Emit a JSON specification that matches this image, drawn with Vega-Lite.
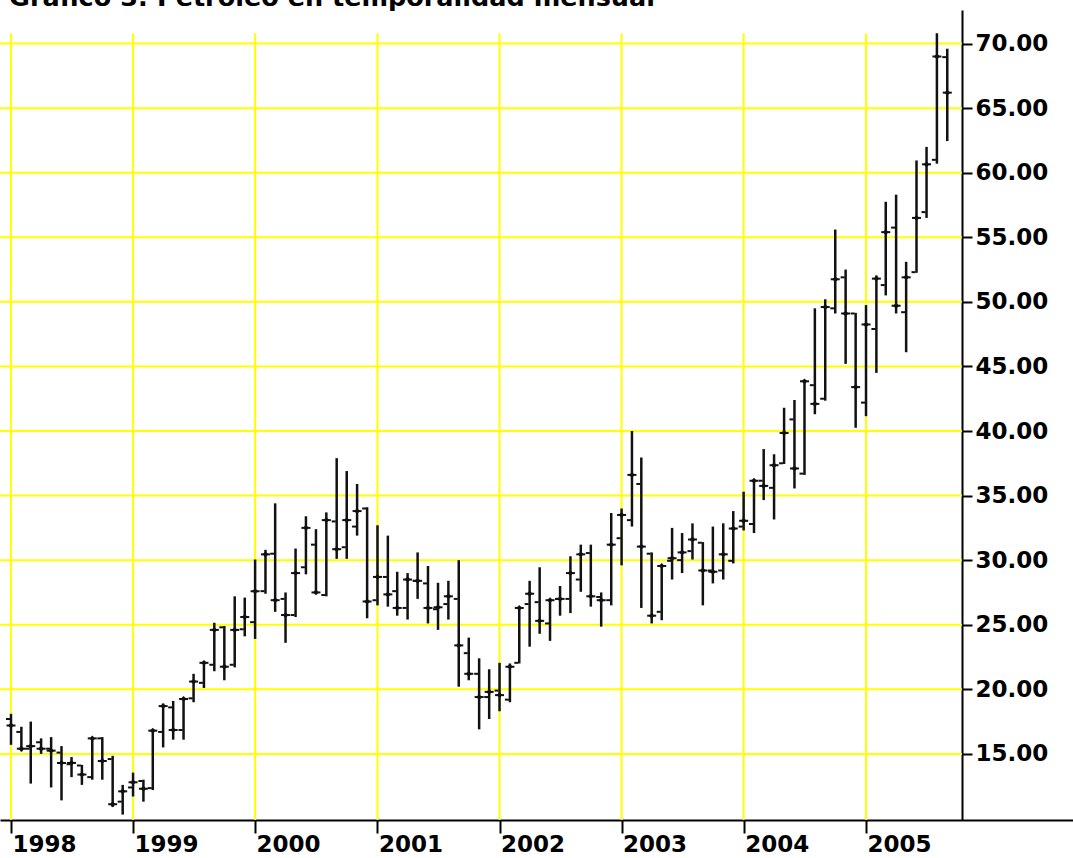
{
  "$schema": "https://vega.github.io/schema/vega-lite/v6.json",
  "width": 1073,
  "height": 810,
  "autosize": {"type": "none"},
  "padding": {"left": 0, "top": 10, "right": 0, "bottom": 38},
  "background": "white",
  "config": {
    "view": {"stroke": null},
    "axis": {
      "grid": false, "title": null,
      "domainColor": "#000000", "domainWidth": 2,
      "tickColor": "#000000", "tickWidth": 2,
      "labelFont": "DejaVu Sans", "labelFontWeight": "bold", "labelFontSize": 23, "labelColor": "#000000",
      "labelOverlap": false, "labelFlush": false, "labelBound": false
    },
    "axisX": {"tickSize": 13, "labelAlign": "left", "labelBaseline": "alphabetic", "labelPadding": 18, "labelOffset": 1},
    "axisY": {"tickSize": 10, "labelAlign": "left", "labelBaseline": "middle", "labelPadding": 3}
  },
  "title": {
    "text": "Gráfico 3: Petróleo en temporalidad mensual",
    "anchor": "start",
    "frame": "group",
    "font": "DejaVu Sans",
    "fontSize": 25.5,
    "fontWeight": "bold",
    "color": "#000000",
    "baseline": "alphabetic",
    "offset": -21,
    "dx": 9
  },
  "datasets": {
    "levels": [{"v": 15}, {"v": 20}, {"v": 25}, {"v": 30}, {"v": 35}, {"v": 40}, {"v": 45}, {"v": 50}, {"v": 55}, {"v": 60}, {"v": 65}, {"v": 70}],
    "years": [{"yr": "1998-01-01"}, {"yr": "1999-01-01"}, {"yr": "2000-01-01"}, {"yr": "2001-01-01"}, {"yr": "2002-01-01"}, {"yr": "2003-01-01"}, {"yr": "2004-01-01"}, {"yr": "2005-01-01"}],
    "ohlc": [
      {"d": "1998-01-01", "o": 17.7, "h": 18.1, "l": 15.7, "c": 17.2},
      {"d": "1998-02-01", "o": 16.7, "h": 17.1, "l": 15.2, "c": 15.4},
      {"d": "1998-03-01", "o": 15.4, "h": 17.5, "l": 12.7, "c": 15.6},
      {"d": "1998-04-01", "o": 15.9, "h": 16.2, "l": 15.0, "c": 15.4},
      {"d": "1998-05-01", "o": 15.4, "h": 16.3, "l": 12.4, "c": 15.25},
      {"d": "1998-06-01", "o": 15.1, "h": 15.6, "l": 11.4, "c": 14.3},
      {"d": "1998-07-01", "o": 14.2, "h": 14.75, "l": 13.2, "c": 14.3},
      {"d": "1998-08-01", "o": 14.1, "h": 14.15, "l": 12.6, "c": 13.4},
      {"d": "1998-09-01", "o": 13.2, "h": 16.3, "l": 13.0, "c": 16.2},
      {"d": "1998-10-01", "o": 16.2, "h": 16.3, "l": 13.0, "c": 14.45},
      {"d": "1998-11-01", "o": 14.6, "h": 14.85, "l": 10.9, "c": 11.1},
      {"d": "1998-12-01", "o": 11.3, "h": 12.6, "l": 10.3, "c": 12.1},
      {"d": "1999-01-01", "o": 12.4, "h": 13.55, "l": 11.7, "c": 12.8},
      {"d": "1999-02-01", "o": 12.9, "h": 13.0, "l": 11.3, "c": 12.3},
      {"d": "1999-03-01", "o": 12.35, "h": 16.9, "l": 12.2, "c": 16.8},
      {"d": "1999-04-01", "o": 16.7, "h": 18.9, "l": 15.5, "c": 18.7},
      {"d": "1999-05-01", "o": 18.6, "h": 19.1, "l": 16.1, "c": 16.85},
      {"d": "1999-06-01", "o": 16.85, "h": 19.4, "l": 16.1, "c": 19.25},
      {"d": "1999-07-01", "o": 19.3, "h": 21.2, "l": 19.0, "c": 20.6},
      {"d": "1999-08-01", "o": 20.5, "h": 22.1, "l": 20.1, "c": 22.05},
      {"d": "1999-09-01", "o": 21.9, "h": 25.15, "l": 21.4, "c": 24.6},
      {"d": "1999-10-01", "o": 24.8, "h": 24.9, "l": 20.7, "c": 21.75},
      {"d": "1999-11-01", "o": 21.9, "h": 27.2, "l": 21.7, "c": 24.6},
      {"d": "1999-12-01", "o": 24.65, "h": 27.1, "l": 24.1, "c": 25.6},
      {"d": "2000-01-01", "o": 25.2, "h": 30.05, "l": 23.9, "c": 27.6},
      {"d": "2000-02-01", "o": 27.6, "h": 30.8, "l": 27.4, "c": 30.45},
      {"d": "2000-03-01", "o": 30.5, "h": 34.4, "l": 26.0, "c": 26.9},
      {"d": "2000-04-01", "o": 27.0, "h": 27.5, "l": 23.6, "c": 25.75},
      {"d": "2000-05-01", "o": 25.75, "h": 30.9, "l": 25.6, "c": 29.0},
      {"d": "2000-06-01", "o": 29.45, "h": 33.4, "l": 28.9, "c": 32.5},
      {"d": "2000-07-01", "o": 31.2, "h": 32.4, "l": 27.5, "c": 27.5},
      {"d": "2000-08-01", "o": 27.3, "h": 33.7, "l": 27.2, "c": 33.1},
      {"d": "2000-09-01", "o": 33.0, "h": 37.9, "l": 30.1, "c": 30.85},
      {"d": "2000-10-01", "o": 31.0, "h": 36.9, "l": 30.1, "c": 33.1},
      {"d": "2000-11-01", "o": 32.6, "h": 35.9, "l": 31.9, "c": 33.8},
      {"d": "2000-12-01", "o": 34.0, "h": 34.1, "l": 25.5, "c": 26.8},
      {"d": "2001-01-01", "o": 26.9, "h": 32.7, "l": 26.5, "c": 28.7},
      {"d": "2001-02-01", "o": 28.7, "h": 31.9, "l": 26.4, "c": 27.35},
      {"d": "2001-03-01", "o": 27.6, "h": 29.1, "l": 25.7, "c": 26.3},
      {"d": "2001-04-01", "o": 26.3, "h": 29.0, "l": 25.4, "c": 28.5},
      {"d": "2001-05-01", "o": 28.4, "h": 30.6, "l": 27.0, "c": 28.4},
      {"d": "2001-06-01", "o": 28.2, "h": 29.55, "l": 25.1, "c": 26.3},
      {"d": "2001-07-01", "o": 26.2, "h": 28.25, "l": 24.6, "c": 26.35},
      {"d": "2001-08-01", "o": 26.6, "h": 28.4, "l": 25.4, "c": 27.2},
      {"d": "2001-09-01", "o": 27.0, "h": 30.0, "l": 20.2, "c": 23.4},
      {"d": "2001-10-01", "o": 22.8, "h": 24.0, "l": 20.7, "c": 21.2},
      {"d": "2001-11-01", "o": 21.2, "h": 22.4, "l": 16.9, "c": 19.4},
      {"d": "2001-12-01", "o": 19.4, "h": 21.55, "l": 17.7, "c": 19.8},
      {"d": "2002-01-01", "o": 19.9, "h": 22.05, "l": 18.3, "c": 19.55},
      {"d": "2002-02-01", "o": 19.2, "h": 22.0, "l": 19.0, "c": 21.75},
      {"d": "2002-03-01", "o": 22.05, "h": 26.35, "l": 22.0, "c": 26.3},
      {"d": "2002-04-01", "o": 26.6, "h": 28.4, "l": 23.3, "c": 27.4},
      {"d": "2002-05-01", "o": 26.75, "h": 29.45, "l": 24.3, "c": 25.3},
      {"d": "2002-06-01", "o": 25.1, "h": 26.95, "l": 23.75, "c": 26.9},
      {"d": "2002-07-01", "o": 27.0, "h": 28.0, "l": 25.7, "c": 27.0},
      {"d": "2002-08-01", "o": 27.0, "h": 30.3, "l": 25.9, "c": 29.0},
      {"d": "2002-09-01", "o": 28.5, "h": 31.2, "l": 27.55, "c": 30.45},
      {"d": "2002-10-01", "o": 30.55, "h": 31.2, "l": 26.4, "c": 27.2},
      {"d": "2002-11-01", "o": 27.15, "h": 27.5, "l": 24.85, "c": 26.9},
      {"d": "2002-12-01", "o": 26.9, "h": 33.65, "l": 26.5, "c": 31.2},
      {"d": "2003-01-01", "o": 31.7, "h": 34.0, "l": 29.6, "c": 33.5},
      {"d": "2003-02-01", "o": 33.1, "h": 40.0, "l": 32.6, "c": 36.6},
      {"d": "2003-03-01", "o": 35.9, "h": 37.95, "l": 26.3, "c": 31.05},
      {"d": "2003-04-01", "o": 30.5, "h": 30.6, "l": 25.1, "c": 25.7},
      {"d": "2003-05-01", "o": 26.0, "h": 29.6, "l": 25.35, "c": 29.55},
      {"d": "2003-06-01", "o": 29.95, "h": 32.5, "l": 28.5, "c": 30.15},
      {"d": "2003-07-01", "o": 30.0, "h": 32.1, "l": 29.0, "c": 30.6},
      {"d": "2003-08-01", "o": 30.7, "h": 32.85, "l": 30.05, "c": 31.6},
      {"d": "2003-09-01", "o": 31.35, "h": 31.4, "l": 26.5, "c": 29.2},
      {"d": "2003-10-01", "o": 29.2, "h": 32.6, "l": 28.2, "c": 29.1},
      {"d": "2003-11-01", "o": 29.2, "h": 32.85, "l": 28.5, "c": 30.45},
      {"d": "2003-12-01", "o": 29.95, "h": 33.8, "l": 29.75, "c": 32.45},
      {"d": "2004-01-01", "o": 32.6, "h": 35.3, "l": 32.3, "c": 33.05},
      {"d": "2004-02-01", "o": 32.8, "h": 36.2, "l": 32.1, "c": 36.15},
      {"d": "2004-03-01", "o": 36.15, "h": 38.6, "l": 34.65, "c": 35.75},
      {"d": "2004-04-01", "o": 35.6, "h": 38.2, "l": 33.15, "c": 37.35},
      {"d": "2004-05-01", "o": 37.5, "h": 41.8, "l": 37.45, "c": 39.85},
      {"d": "2004-06-01", "o": 40.9, "h": 42.4, "l": 35.55, "c": 37.1},
      {"d": "2004-07-01", "o": 36.7, "h": 43.95, "l": 36.6, "c": 43.85},
      {"d": "2004-08-01", "o": 43.55, "h": 49.5, "l": 41.3, "c": 42.1},
      {"d": "2004-09-01", "o": 42.5, "h": 50.2, "l": 42.35, "c": 49.6},
      {"d": "2004-10-01", "o": 49.5, "h": 55.6, "l": 49.1, "c": 51.75},
      {"d": "2004-11-01", "o": 51.9, "h": 52.5, "l": 45.2, "c": 49.1},
      {"d": "2004-12-01", "o": 49.1, "h": 49.15, "l": 40.25, "c": 43.4},
      {"d": "2005-01-01", "o": 42.2, "h": 49.75, "l": 41.15, "c": 48.25},
      {"d": "2005-02-01", "o": 47.9, "h": 52.05, "l": 44.5, "c": 51.8},
      {"d": "2005-03-01", "o": 51.3, "h": 57.75, "l": 50.5, "c": 55.4},
      {"d": "2005-04-01", "o": 55.75, "h": 58.3, "l": 49.1, "c": 49.7},
      {"d": "2005-05-01", "o": 49.2, "h": 53.1, "l": 46.1, "c": 51.9},
      {"d": "2005-06-01", "o": 52.3, "h": 60.95, "l": 52.25, "c": 56.5},
      {"d": "2005-07-01", "o": 56.95, "h": 62.0, "l": 56.5, "c": 60.65},
      {"d": "2005-08-01", "o": 61.0, "h": 70.8, "l": 60.7, "c": 69.0},
      {"d": "2005-09-01", "o": 68.95, "h": 69.6, "l": 62.45, "c": 66.2}
    ]
  },
  "layer": [
    {
      "data": {"name": "levels"},
      "mark": {"type": "rule", "color": "#ffff00", "strokeWidth": 2},
      "encoding": {
        "y": {"field": "v", "type": "quantitative", "scale": {"domain": [9.88, 72.6], "zero": false, "nice": false},
              "axis": {"orient": "right", "offset": -111, "values": [15, 20, 25, 30, 35, 40, 45, 50, 55, 60, 65, 70], "format": ".2f", "title": null}},
        "x": {"datum": {"year": 1997, "month": 11, "date": 29, "hours": 2, "utc": true}, "type": "temporal",
              "scale": {"type": "utc", "domain": [{"year": 1997, "month": 11, "date": 29, "hours": 2, "utc": true}, {"year": 2006, "month": 9, "date": 12, "utc": true}], "nice": false},
              "axis": {"title": null, "format": "%Y", "formatType": "utc", "values": [{"year": 1998, "month": 1, "date": 1, "utc": true}, {"year": 1999, "month": 1, "date": 1, "utc": true}, {"year": 2000, "month": 1, "date": 1, "utc": true}, {"year": 2001, "month": 1, "date": 1, "utc": true}, {"year": 2002, "month": 1, "date": 1, "utc": true}, {"year": 2003, "month": 1, "date": 1, "utc": true}, {"year": 2004, "month": 1, "date": 1, "utc": true}, {"year": 2005, "month": 1, "date": 1, "utc": true}]}},
        "x2": {"datum": {"year": 2005, "month": 10, "date": 15, "utc": true}}
      }
    },
    {
      "data": {"name": "years"},
      "mark": {"type": "rule", "color": "#ffff00", "strokeWidth": 2},
      "encoding": {
        "x": {"field": "yr", "type": "temporal",
              "scale": {"type": "utc", "domain": [{"year": 1997, "month": 11, "date": 29, "hours": 2, "utc": true}, {"year": 2006, "month": 9, "date": 12, "utc": true}], "nice": false},
              "axis": {"title": null, "format": "%Y", "formatType": "utc", "values": [{"year": 1998, "month": 1, "date": 1, "utc": true}, {"year": 1999, "month": 1, "date": 1, "utc": true}, {"year": 2000, "month": 1, "date": 1, "utc": true}, {"year": 2001, "month": 1, "date": 1, "utc": true}, {"year": 2002, "month": 1, "date": 1, "utc": true}, {"year": 2003, "month": 1, "date": 1, "utc": true}, {"year": 2004, "month": 1, "date": 1, "utc": true}, {"year": 2005, "month": 1, "date": 1, "utc": true}]}},
        "y": {"datum": 70.8, "type": "quantitative", "scale": {"domain": [9.88, 72.6], "zero": false, "nice": false},
              "axis": {"orient": "right", "offset": -111, "values": [15, 20, 25, 30, 35, 40, 45, 50, 55, 60, 65, 70], "format": ".2f", "title": null}},
        "y2": {"datum": 9.88}
      }
    },
    {
      "data": {"name": "ohlc"},
      "mark": {"type": "rule", "color": "#111111", "strokeWidth": 2.5},
      "encoding": {
        "x": {"field": "d", "type": "temporal",
              "scale": {"type": "utc", "domain": [{"year": 1997, "month": 11, "date": 29, "hours": 2, "utc": true}, {"year": 2006, "month": 9, "date": 12, "utc": true}], "nice": false},
              "axis": {"title": null, "format": "%Y", "formatType": "utc", "values": [{"year": 1998, "month": 1, "date": 1, "utc": true}, {"year": 1999, "month": 1, "date": 1, "utc": true}, {"year": 2000, "month": 1, "date": 1, "utc": true}, {"year": 2001, "month": 1, "date": 1, "utc": true}, {"year": 2002, "month": 1, "date": 1, "utc": true}, {"year": 2003, "month": 1, "date": 1, "utc": true}, {"year": 2004, "month": 1, "date": 1, "utc": true}, {"year": 2005, "month": 1, "date": 1, "utc": true}]}},
        "y": {"field": "h", "type": "quantitative", "scale": {"domain": [9.88, 72.6], "zero": false, "nice": false},
              "axis": {"orient": "right", "offset": -111, "values": [15, 20, 25, 30, 35, 40, 45, 50, 55, 60, 65, 70], "format": ".2f", "title": null}},
        "y2": {"field": "l"}
      }
    },
    {
      "data": {"name": "ohlc"},
      "mark": {"type": "tick", "orient": "horizontal", "size": 4, "thickness": 2, "xOffset": -3, "color": "#111111", "opacity": 1},
      "encoding": {
        "x": {"field": "d", "type": "temporal",
              "scale": {"type": "utc", "domain": [{"year": 1997, "month": 11, "date": 29, "hours": 2, "utc": true}, {"year": 2006, "month": 9, "date": 12, "utc": true}], "nice": false},
              "axis": {"title": null, "format": "%Y", "formatType": "utc", "values": [{"year": 1998, "month": 1, "date": 1, "utc": true}, {"year": 1999, "month": 1, "date": 1, "utc": true}, {"year": 2000, "month": 1, "date": 1, "utc": true}, {"year": 2001, "month": 1, "date": 1, "utc": true}, {"year": 2002, "month": 1, "date": 1, "utc": true}, {"year": 2003, "month": 1, "date": 1, "utc": true}, {"year": 2004, "month": 1, "date": 1, "utc": true}, {"year": 2005, "month": 1, "date": 1, "utc": true}]}},
        "y": {"field": "o", "type": "quantitative", "scale": {"domain": [9.88, 72.6], "zero": false, "nice": false},
              "axis": {"orient": "right", "offset": -111, "values": [15, 20, 25, 30, 35, 40, 45, 50, 55, 60, 65, 70], "format": ".2f", "title": null}}
      }
    },
    {
      "data": {"name": "ohlc"},
      "mark": {"type": "tick", "orient": "horizontal", "size": 9, "thickness": 2, "color": "#111111", "opacity": 1},
      "encoding": {
        "x": {"field": "d", "type": "temporal",
              "scale": {"type": "utc", "domain": [{"year": 1997, "month": 11, "date": 29, "hours": 2, "utc": true}, {"year": 2006, "month": 9, "date": 12, "utc": true}], "nice": false},
              "axis": {"title": null, "format": "%Y", "formatType": "utc", "values": [{"year": 1998, "month": 1, "date": 1, "utc": true}, {"year": 1999, "month": 1, "date": 1, "utc": true}, {"year": 2000, "month": 1, "date": 1, "utc": true}, {"year": 2001, "month": 1, "date": 1, "utc": true}, {"year": 2002, "month": 1, "date": 1, "utc": true}, {"year": 2003, "month": 1, "date": 1, "utc": true}, {"year": 2004, "month": 1, "date": 1, "utc": true}, {"year": 2005, "month": 1, "date": 1, "utc": true}]}},
        "y": {"field": "c", "type": "quantitative", "scale": {"domain": [9.88, 72.6], "zero": false, "nice": false},
              "axis": {"orient": "right", "offset": -111, "values": [15, 20, 25, 30, 35, 40, 45, 50, 55, 60, 65, 70], "format": ".2f", "title": null}}
      }
    },
    {
      "data": {"name": "ohlc"},
      "mark": {"type": "point", "shape": "diamond", "filled": true, "size": 34, "color": "#111111", "opacity": 1},
      "encoding": {
        "x": {"field": "d", "type": "temporal",
              "scale": {"type": "utc", "domain": [{"year": 1997, "month": 11, "date": 29, "hours": 2, "utc": true}, {"year": 2006, "month": 9, "date": 12, "utc": true}], "nice": false},
              "axis": {"title": null, "format": "%Y", "formatType": "utc", "values": [{"year": 1998, "month": 1, "date": 1, "utc": true}, {"year": 1999, "month": 1, "date": 1, "utc": true}, {"year": 2000, "month": 1, "date": 1, "utc": true}, {"year": 2001, "month": 1, "date": 1, "utc": true}, {"year": 2002, "month": 1, "date": 1, "utc": true}, {"year": 2003, "month": 1, "date": 1, "utc": true}, {"year": 2004, "month": 1, "date": 1, "utc": true}, {"year": 2005, "month": 1, "date": 1, "utc": true}]}},
        "y": {"field": "c", "type": "quantitative", "scale": {"domain": [9.88, 72.6], "zero": false, "nice": false},
              "axis": {"orient": "right", "offset": -111, "values": [15, 20, 25, 30, 35, 40, 45, 50, 55, 60, 65, 70], "format": ".2f", "title": null}}
      }
    }
  ]
}
